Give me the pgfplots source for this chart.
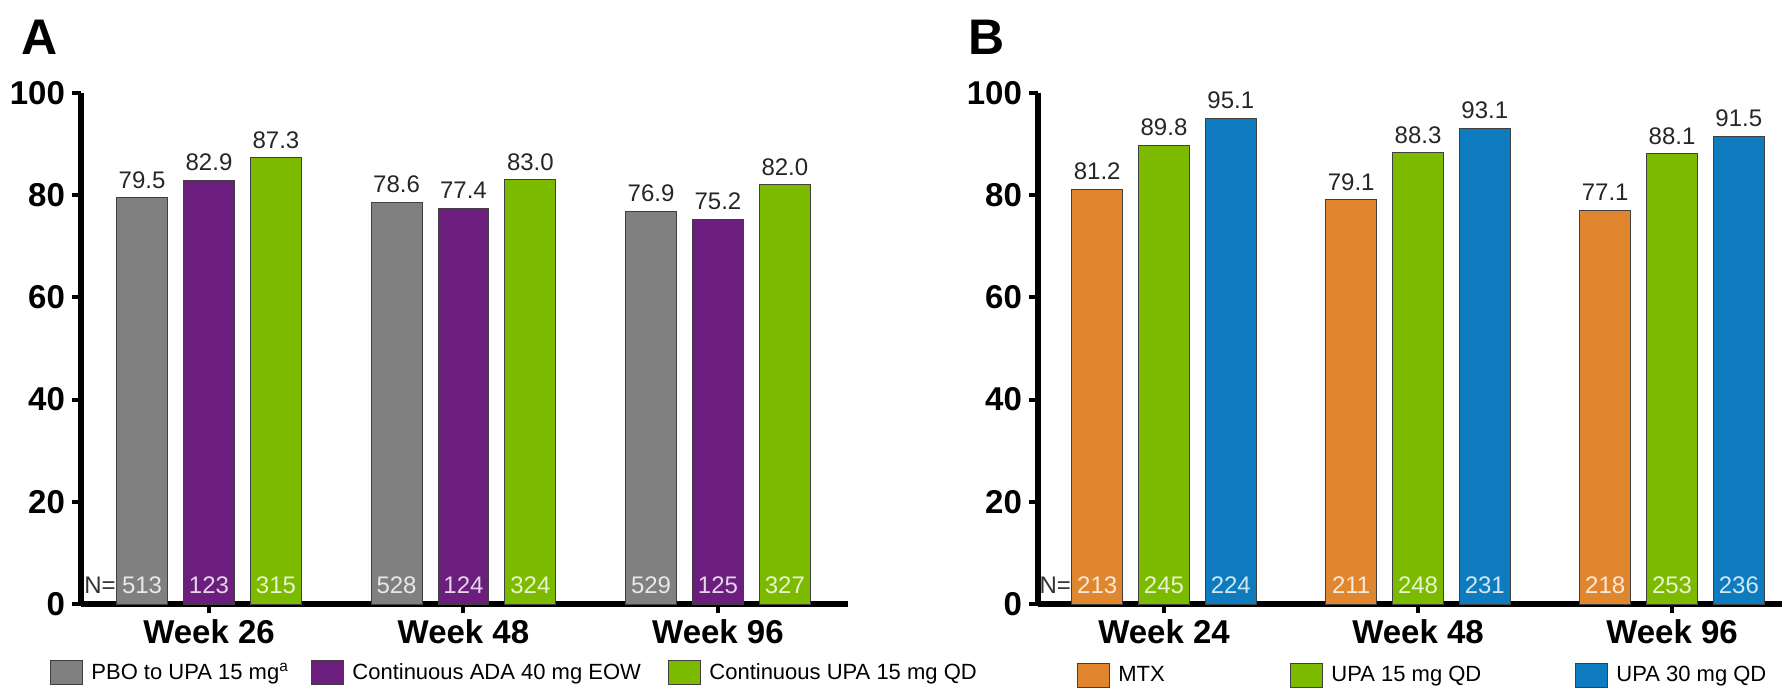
\documentclass[border=0pt]{standalone}
\usepackage{pgfplots}
\pgfplotsset{compat=1.18}
\usepackage{fontspec}
\setmainfont{Liberation Sans}
\definecolor{cgray}{HTML}{808080}
\definecolor{cpurple}{HTML}{6B1E7E}
\definecolor{cgreen}{HTML}{7CBA00}
\definecolor{corange}{HTML}{E0862F}
\definecolor{cblue}{HTML}{0D7BBD}
\pgfplotsset{
  mybar/.style={ybar, bar width=0.2, bar shift=0pt, fill=#1, draw=black!75, line width=0.5pt,
    nodes near coords={\pgfmathprintnumber[fixed,fixed zerofill,precision=1]{\pgfplotspointmeta}},
    nodes near coords style={font=\fontsize{12}{14}\selectfont, text=black!85, anchor=south, inner sep=0pt, yshift=4.5pt},
    legend image code/.code={\draw[fill=#1, draw=black!75, line width=0.5pt] (0pt,-6pt) rectangle (16pt,6pt);}},
  nlab/.style={only marks, mark=none, point meta=explicit symbolic, nodes near coords, forget plot,
    nodes near coords style={font=\fontsize{12}{14}\selectfont, text=white!82!#1, anchor=center, inner sep=0pt}},
  base/.style={
    scale only axis, height=255.5pt,
    ymin=0, ymax=100, ytick={0,20,...,100},
    axis x line*=bottom, axis y line*=left,
    axis line style={line width=2.8pt, black},
    tick style={line width=2pt, black},
    tick align=outside, major tick length=4.5pt,
    xtick={0,1,2},
    /pgf/number format/assume math mode=true,
    tick label style={font=\fontsize{16.5}{19}\selectfont\bfseries},
    clip=false,
    legend style={draw=none, fill=none, inner sep=0pt, legend columns=3,
      font=\fontsize{11}{13}\selectfont,
      /tikz/every odd column/.append style={column sep=4pt},
      nodes={inner sep=0pt}},
    legend cell align=left,
  }
}
\begin{document}
\begin{tikzpicture}
\begin{axis}[base, at={(40.5pt,44pt)}, anchor=south west, width=383.5pt,
  xmin=-0.503, xmax=2.511,
  xticklabels={Week 26,Week 48,Week 96},
  legend style={at={(-0.0404,-0.135)}, anchor=west}]
\addplot[mybar=cgray] coordinates {(-0.263,79.5) (0.737,78.6) (1.737,76.9)};
\addlegendentry{\makebox[110pt][l]{PBO to UPA 15 mg\textsuperscript{a}}}
\addplot[mybar=cpurple] coordinates {(0,82.9) (1,77.4) (2,75.2)};
\addlegendentry{\makebox[158pt][l]{Continuous ADA 40 mg EOW}}
\addplot[mybar=cgreen] coordinates {(0.263,87.3) (1.263,83.0) (2.263,82.0)};
\addlegendentry{Continuous UPA 15 mg QD}
\addplot[nlab=cgray] coordinates {(-0.263,3.7)[513] (0.737,3.7)[528] (1.737,3.7)[529]};
\addplot[nlab=cpurple] coordinates {(0,3.7)[123] (1,3.7)[124] (2,3.7)[125]};
\addplot[nlab=cgreen] coordinates {(0.263,3.7)[315] (1.263,3.7)[324] (2.263,3.7)[327]};
\node[anchor=east, font=\fontsize{12}{14}\selectfont, text=black!80, inner sep=0pt] at (axis cs:-0.365,3.7) {N=};
\end{axis}
\begin{axis}[base, at={(519pt,44pt)}, anchor=south west, width=372pt,
  xmin=-0.496, xmax=2.433,
  xticklabels={Week 24,Week 48,Week 96},
  legend style={at={(0.0524,-0.139)}, anchor=west}]
\addplot[mybar=corange] coordinates {(-0.263,81.2) (0.737,79.1) (1.737,77.1)};
\addlegendentry{\makebox[86pt][l]{MTX}}
\addplot[mybar=cgreen] coordinates {(0,89.8) (1,88.3) (2,88.1)};
\addlegendentry{\makebox[122pt][l]{UPA 15 mg QD}}
\addplot[mybar=cblue] coordinates {(0.263,95.1) (1.263,93.1) (2.263,91.5)};
\addlegendentry{UPA 30 mg QD}
\addplot[nlab=corange] coordinates {(-0.263,3.7)[213] (0.737,3.7)[211] (1.737,3.7)[218]};
\addplot[nlab=cgreen] coordinates {(0,3.7)[245] (1,3.7)[248] (2,3.7)[253]};
\addplot[nlab=cblue] coordinates {(0.263,3.7)[224] (1.263,3.7)[231] (2.263,3.7)[236]};
\node[anchor=east, font=\fontsize{12}{14}\selectfont, text=black!80, inner sep=0pt] at (axis cs:-0.365,3.7) {N=};
\end{axis}
\node[font=\fontsize{25}{30}\selectfont\bfseries] at (20pt,327.5pt) {A};
\node[font=\fontsize{25}{30}\selectfont\bfseries] at (493.5pt,327.5pt) {B};
\pgfresetboundingbox
\path[use as bounding box] (0,0) rectangle (891pt,346pt);
\end{tikzpicture}
\end{document}
